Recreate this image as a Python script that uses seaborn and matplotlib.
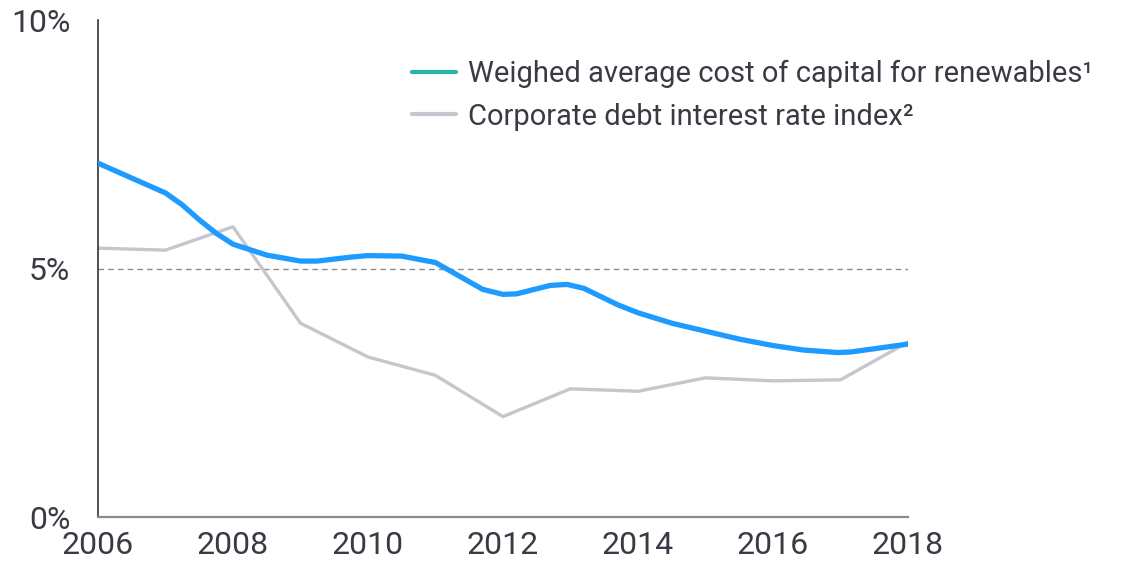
import matplotlib
matplotlib.use("Agg")
import matplotlib.pyplot as plt
from matplotlib.lines import Line2D
import pandas as pd
import seaborn as sns

# Weighted average cost of capital for renewables
wacc_year = [2006.0, 2006.5, 2007.0, 2007.25, 2007.5, 2007.75, 2008.0, 2008.5, 2009.0,
             2009.25, 2009.75, 2010.0, 2010.5, 2011.0, 2011.7, 2012.0, 2012.2, 2012.7,
             2012.95, 2013.2, 2013.7, 2014.0, 2014.5, 2015.0, 2015.5, 2016.0, 2016.45,
             2016.95, 2017.15, 2018.0]
wacc_value = [7.12, 6.82, 6.52, 6.28, 5.98, 5.71, 5.49, 5.27, 5.15,
              5.15, 5.23, 5.26, 5.25, 5.12, 4.58, 4.48, 4.49, 4.66,
              4.68, 4.60, 4.27, 4.11, 3.90, 3.74, 3.58, 3.45, 3.36,
              3.31, 3.32, 3.48]

# Corporate debt interest rate index
debt_year = [2006, 2007, 2008, 2009, 2010, 2011, 2012, 2013, 2014, 2015, 2016, 2017, 2018]
debt_value = [5.41, 5.37, 5.84, 3.90, 3.22, 2.85, 2.02, 2.58, 2.53, 2.80, 2.74, 2.76, 3.52]

x_ticks = [2006, 2008, 2010, 2012, 2014, 2016, 2018]
y_ticks = [0, 5, 10]
y_labels = ["0%", "5%", "10%"]
labels = ["Weighed average cost of capital for renewables\u00b9",
          "Corporate debt interest rate index\u00b2"]

df_wacc = pd.DataFrame({"year": wacc_year, "value": wacc_value})
df_debt = pd.DataFrame({"year": debt_year, "value": debt_value})

sns.set_style("white")
plt.rcParams["font.family"] = ["Roboto", "DejaVu Sans"]
plt.rcParams["font.weight"] = "normal"

text_color = "#3a3a44"

fig = plt.figure(figsize=(11.25, 5.61), dpi=100)
ax = fig.add_axes([0.0871, 0.0784, 0.7200, 0.8859])

ax.axhline(5, color="#8a8a90", lw=1, ls=(0, (4, 3)), zorder=1)
sns.lineplot(x="year", y="value", data=df_debt, color="#c6c6ce", lw=2.4, ax=ax, zorder=2)
sns.lineplot(x="year", y="value", data=df_wacc, color="#1e9bff", lw=3.8, ax=ax, zorder=3)

ax.set_xlim(2006, 2018)
ax.set_ylim(0, 10)
ax.set_xticks(x_ticks)
ax.set_yticks(y_ticks)
ax.set_yticklabels(y_labels)
ax.set_xlabel("")
ax.set_ylabel("")
ax.tick_params(axis="both", length=0, labelsize=23, colors=text_color)
ax.tick_params(axis="y", pad=20)
ax.tick_params(axis="x", pad=10)

for side in ["top", "right"]:
    ax.spines[side].set_visible(False)
ax.spines["left"].set_color("#333333")
ax.spines["left"].set_linewidth(1.2)
ax.spines["bottom"].set_color("#8a8a8a")
ax.spines["bottom"].set_linewidth(1.6)

handles = [Line2D([0], [0], color="#2ab5a6", lw=3),
           Line2D([0], [0], color="#c6c6ce", lw=3)]
leg = fig.legend(handles, labels, loc="upper left", bbox_to_anchor=(0.343, 0.94),
                 frameon=False, fontsize=21, handlelength=1.5, handletextpad=0.4,
                 labelspacing=0.5, labelcolor=text_color)

fig.savefig("out.png", dpi=100)
